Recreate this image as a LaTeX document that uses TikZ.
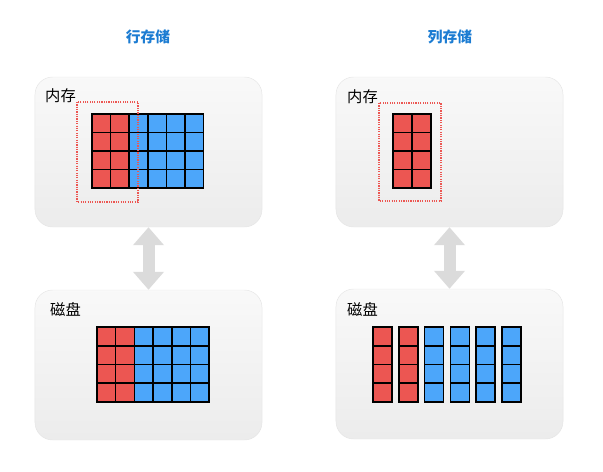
\documentclass[tikz,border=0pt]{standalone}
\usepackage{fontspec}
\setmainfont{Noto Sans CJK SC}
\usetikzlibrary{arrows.meta}

\definecolor{cellred}{RGB}{236,86,82}
\definecolor{cellblue}{RGB}{76,166,250}
\definecolor{titleblue}{RGB}{28,124,210}

\begin{document}
\begin{tikzpicture}[x=0.85pt,y=-0.85pt,
    panel/.style={draw=gray!20, top color=gray!5, bottom color=gray!15, rounded corners=15pt,
        minimum width=193pt, minimum height=127.5pt, inner sep=0pt},
    title/.style={text=titleblue, font=\bfseries\fontsize{12.5}{14}\selectfont},
    tag/.style={anchor=west, inner sep=0pt, font=\fontsize{13}{14}\selectfont},
    cell/.style={draw=black, line width=1.3pt},
    pick/.style={draw=cellred, densely dotted, line width=1pt},
    dbarrow/.style={draw=gray!28, line width=10.2pt,
        {Triangle[length=15.3pt,width=25.5pt]}-{Triangle[length=15.3pt,width=25.5pt]}}]
        \useasboundingbox (0,0) rectangle (603,471);

        % titles
        \node[title] (rowtitle) at (148,37) {行存储};
        \node[title] (coltitle) at (450,37) {列存储};

        % panels
        \node[panel] (mem1) at (148.5,152) {};
        \node[panel] (disk1) at (148.5,365) {};
        \node[panel] (mem2) at (449.5,152) {};
        \node[panel] (disk2) at (449.5,364) {};

        \node[tag] (memtag1) at (45,96) {内存};
        \node[tag] (disktag1) at (50,309) {磁盘};
        \node[tag] (memtag2) at (347,97) {内存};
        \node[tag] (disktag2) at (347,309) {磁盘};

        % row store, memory
        \foreach \c/\col in {0/cellred,1/cellred,2/cellblue,3/cellblue,4/cellblue,5/cellblue}
            \foreach \r in {0,...,3}
                \draw[cell, fill=\col] (92+\c*18.6,114+\r*18.5) rectangle +(18.6,18.5);
        % row store, disk
        \foreach \c/\col in {0/cellred,1/cellred,2/cellblue,3/cellblue,4/cellblue,5/cellblue}
            \foreach \r in {0,...,3}
                \draw[cell, fill=\col] (97+\c*18.7,327+\r*18.75) rectangle +(18.7,18.75);
        % column store, memory
        \foreach \c in {0,1}
            \foreach \r in {0,...,3}
                \draw[cell, fill=cellred] (393+\c*19,114+\r*18.5) rectangle +(19,18.5);
        % column store, disk
        \foreach \c/\col in {0/cellred,1/cellred,2/cellblue,3/cellblue,4/cellblue,5/cellblue}
            \foreach \r in {0,...,3}
                \draw[cell, fill=\col] (373+\c*25.8,327+\r*18.75) rectangle +(19,18.75);

        % what is read
        \draw[pick] (77,102) rectangle (138,202);
        \draw[pick] (379,103) rectangle (441,201);

        % memory <-> disk
        \draw[dbarrow] (mem1.south) -- (disk1.north);
        \draw[dbarrow] (mem2.south) -- (disk2.north);
    \end{tikzpicture}
\end{document}
